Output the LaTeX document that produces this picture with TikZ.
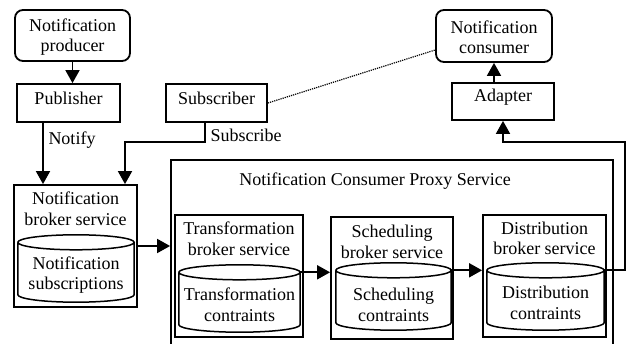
\documentclass[tikz,border=0pt]{standalone}
\usepackage{fontspec}
\setmainfont{Liberation Serif}
\usetikzlibrary{calc,arrows.meta}
\tikzset{
  every node/.style={font=\fontsize{18}{20.5}\selectfont, inner sep=0pt},
  box/.style={draw, line width=1.8pt},
  rbox/.style={draw, line width=1.8pt, rounded corners=8pt},
  txt/.style={align=center},
  arr/.style={line width=1.8pt, -{Triangle[length=13pt,width=14pt]}},
  cylline/.style={line width=1.5pt},
  cylbox/.style={draw=none}
}
\newcommand\drawcyl[1]{%
  \draw[cylline] let \p1=(#1.north west), \p2=(#1.south east), \n1={(\x2-\x1)/2} in
    (\x1,\y1-7.5pt) arc[start angle=180, end angle=-180, x radius=\n1*1pt, y radius=7.5pt]
    (\x1,\y1-7.5pt) -- (\x1,\y2+7.5pt) arc[start angle=180, end angle=360, x radius=\n1*1pt, y radius=7.5pt] -- (\x2,\y1-7.5pt);
}
\begin{document}
\begin{tikzpicture}[x=1pt,y=-1pt]
\useasboundingbox (0,0) rectangle (629,344);
% top row
\node[rbox, minimum width=115pt, minimum height=51pt] (prod) at (72.5,35.5) {};
\node[txt] (prodT) at (72.5,37) {Notification\\producer};
\node[box, minimum width=103pt, minimum height=38pt] (pub) at (68.5,103) {};
\node[txt] (pubT) at (68.5,98) {Publisher};
\node[box, minimum width=101pt, minimum height=38pt] (sub) at (216.5,103) {};
\node[txt] (subT) at (216.5,98) {Subscriber};
\node[rbox, minimum width=116pt, minimum height=52pt] (cons) at (494,36) {};
\node[txt] (consT) at (494,37.5) {Notification\\consumer};
\node[box, minimum width=102pt, minimum height=37pt] (adapt) at (503,101.5) {};
\node[txt] (adaptT) at (503,97) {Adapter};
% broker
\node[box, minimum width=123pt, minimum height=122pt] (broker) at (75.5,246) {};
\node[txt] (brokerT) at (75.5,209) {Notification\\broker service};
\node[cylbox, minimum width=116pt, minimum height=67pt] (brokerdb) at (76,268.5) {};
\drawcyl{brokerdb}
\node[txt] (brokerdbT) at (76,275) {Notification\\subscriptions};
% proxy
\node[box, minimum width=442pt, minimum height=200pt] (proxy) at (392,260) {};
\node (proxyT) at (375,181) {Notification Consumer Proxy Service};
% transformation
\node[box, minimum width=128pt, minimum height=122pt] (trans) at (239,276) {};
\node[txt] (transT) at (239,239) {Transformation\\broker service};
\node[cylbox, minimum width=121pt, minimum height=67pt] (transdb) at (239.5,298.5) {};
\drawcyl{transdb}
\node[txt] (transdbT) at (239.5,305) {Transformation\\contraints};
% scheduling
\node[box, minimum width=122pt, minimum height=122pt] (sched) at (392,278) {};
\node[txt] (schedT) at (392,242) {Scheduling\\broker service};
\node[cylbox, minimum width=115pt, minimum height=67pt] (scheddb) at (393.5,296.5) {};
\drawcyl{scheddb}
\node[txt] (scheddbT) at (393.5,305) {Scheduling\\contraints};
% distribution
\node[box, minimum width=123pt, minimum height=122pt] (dist) at (544.5,276) {};
\node[txt] (distT) at (544.5,238.5) {Distribution\\broker service};
\node[cylbox, minimum width=117pt, minimum height=67pt] (distdb) at (545.5,296.5) {};
\drawcyl{distdb}
\node[txt] (distdbT) at (545.5,303) {Distribution\\contraints};
% labels
\node (notify) at (72,140) {Notify};
\node (subscribe) at (246,135) {Subscribe};
% connectors
\coordinate (sbend) at (125,142);
\coordinate (rt) at (625,142);
\draw[arr] (prod.south) -- (prod.south |- pub.north);
\draw[arr] ([xshift=-25.5pt]pub.south) -- ([xshift=-25.5pt]pub.south |- broker.north);
\draw[arr] ([xshift=-11.5pt]sub.south) |- (sbend) -- (sbend |- broker.north);
\draw[densely dotted, line width=1.2pt] (sub.east) -- ([yshift=-14pt]cons.west);
\draw[arr] (broker.east) -- (broker.east -| proxy.west);
\draw[arr] ([yshift=-7.5pt]transdb.north east) -- ([yshift=-7.5pt]transdb.north east -| sched.west);
\draw[arr] ([yshift=-7.5pt]scheddb.north east) -- ([yshift=-7.5pt]scheddb.north east -| dist.west);
\draw[arr] ([yshift=-7.5pt]distdb.north east) -| (rt) -| (adapt.south);
\draw[arr] (cons.south |- adapt.north) -- (cons.south);
\end{tikzpicture}
\end{document}
